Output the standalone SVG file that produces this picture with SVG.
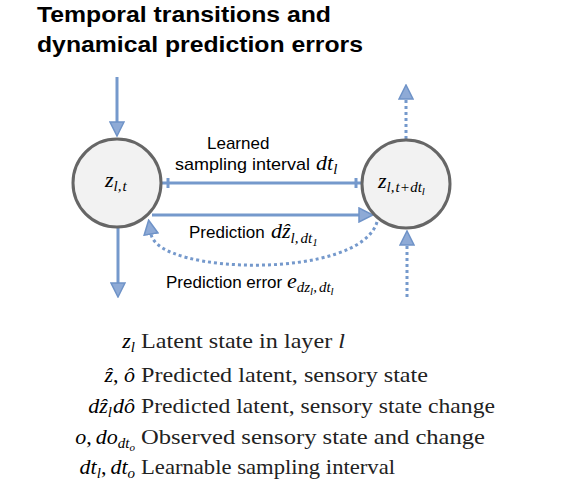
<svg xmlns="http://www.w3.org/2000/svg" width="581" height="488" viewBox="0 0 581 488">
<style>
.title{font-family:"Liberation Sans",Arial,sans-serif;font-weight:bold;font-size:22px;fill:#000}
.lbl{font-family:"Liberation Sans",Arial,sans-serif;font-size:17px;fill:#000}
.m{font-family:"Liberation Serif","Times New Roman",serif;font-style:italic;fill:#000}
.n{font-style:normal}
.leg{font-family:"Liberation Serif","Times New Roman",serif;font-size:21px;fill:#222}
.node{fill:#f2f2f2;stroke:#666;stroke-width:3}
.ln{fill:none;stroke:#7599cc;stroke-width:3}
.dot{fill:none;stroke:#7599cc;stroke-width:3;stroke-dasharray:3 3}
</style>
<defs>
<marker id="ah" markerUnits="userSpaceOnUse" markerWidth="16" markerHeight="16" viewBox="-1 -1 16 16" refX="0" refY="7" orient="auto">
<path d="M0,0 L14,7 L0,14 z" fill="#8eaad6" stroke="#6f93c8" stroke-width="1.5"/>
</marker>
</defs>
<text class="title" x="37" y="22" textLength="294" lengthAdjust="spacingAndGlyphs">Temporal transitions and</text>
<text class="title" x="37" y="52" textLength="326" lengthAdjust="spacingAndGlyphs">dynamical prediction errors</text>
<g id="connectors">
<line class="ln" x1="117" y1="77" x2="117" y2="122" marker-end="url(#ah)"/>
<line class="ln" x1="118" y1="228" x2="118" y2="283" marker-end="url(#ah)"/>
<line class="ln" x1="162" y1="183" x2="361" y2="183"/>
<line class="ln" x1="168" y1="178" x2="168" y2="188"/>
<line class="ln" x1="356" y1="178" x2="356" y2="188"/>
<line class="ln" x1="152" y1="215" x2="359" y2="215" marker-end="url(#ah)"/>
<path class="dot" d="M377,222 C360,280 158,275 151,234" marker-end="url(#ah)"/>
<line class="dot" x1="406" y1="139" x2="406" y2="99" marker-end="url(#ah)"/>
<line class="dot" x1="407" y1="297" x2="407" y2="245" marker-end="url(#ah)"/>
</g>
<g id="node-zt">
<circle class="node" cx="117" cy="183" r="44"/>
<text class="m" x="105" y="187" font-size="22">z<tspan font-size="15" dy="4">l,<tspan dx="1">t</tspan></tspan></text>
</g>
<g id="node-ztdt">
<circle class="node" cx="406" cy="184" r="44"/>
<text class="m" x="378" y="188" font-size="22">z<tspan font-size="15" dy="4">l,<tspan dx="1">t</tspan><tspan class="n" dx="1">+</tspan><tspan dx="1">dt</tspan></tspan><tspan font-size="11" dy="3">l</tspan></text>
</g>
<g id="labels">
<text class="lbl" x="207" y="149">Learned</text>
<text class="lbl" x="175" y="170" textLength="135" lengthAdjust="spacingAndGlyphs">sampling interval</text>
<text class="m" x="316" y="170" font-size="22">dt<tspan font-size="15" dy="4">l</tspan></text>
<text class="lbl" x="189" y="238">Prediction</text>
<text class="m" x="271" y="238" font-size="22">dẑ<tspan font-size="15" dy="5">l,<tspan dx="2">dt</tspan></tspan><tspan font-size="11" dy="3">1</tspan></text>
<text class="lbl" x="166" y="288">Prediction error</text>
<text class="m" x="287" y="288" font-size="22">e<tspan font-size="15" dy="4">dz</tspan><tspan font-size="11" dy="3">l</tspan><tspan font-size="15" dy="-3">,<tspan dx="2">dt</tspan></tspan><tspan font-size="11" dy="3">l</tspan></text>
</g>
<g id="legend">
<text class="m" x="135" y="348" font-size="22" text-anchor="end">z<tspan font-size="15" dy="4">l</tspan></text>
<text class="leg" x="141" y="348" textLength="204" lengthAdjust="spacingAndGlyphs">Latent state in layer <tspan font-style="italic">l</tspan></text>
<text class="m" x="135" y="382" font-size="22" text-anchor="end">ẑ<tspan class="n">, </tspan>ô</text>
<text class="leg" x="141" y="382" textLength="287" lengthAdjust="spacingAndGlyphs">Predicted latent, sensory state</text>
<text class="m" x="135" y="413" font-size="22" text-anchor="end">dẑ<tspan font-size="15" dy="4">l</tspan><tspan dx="1" dy="-4">dô</tspan></text>
<text class="leg" x="141" y="413" textLength="354" lengthAdjust="spacingAndGlyphs">Predicted latent, sensory state change</text>
<text class="m" x="135" y="444" font-size="22" text-anchor="end">o<tspan class="n">,</tspan><tspan dx="4">do</tspan><tspan font-size="15" dy="4">dt</tspan><tspan font-size="11" dy="3">o</tspan></text>
<text class="leg" x="141" y="444" textLength="344" lengthAdjust="spacingAndGlyphs">Observed sensory state and change</text>
<text class="m" x="135" y="474" font-size="22" text-anchor="end">dt<tspan font-size="15" dy="4">l</tspan><tspan class="n" dy="-4">,</tspan><tspan dx="4">dt</tspan><tspan font-size="15" dy="4">o</tspan></text>
<text class="leg" x="141" y="474" textLength="254" lengthAdjust="spacingAndGlyphs">Learnable sampling interval</text>
</g>
</svg>
